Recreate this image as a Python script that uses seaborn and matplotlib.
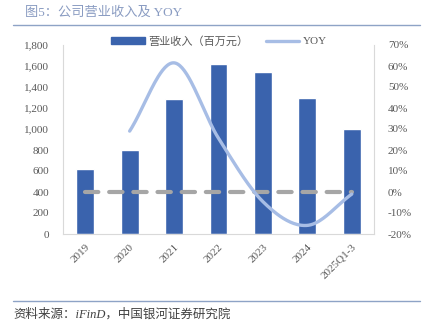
import numpy as np
import pandas as pd
import matplotlib
matplotlib.use("Agg")
import matplotlib.pyplot as plt
from matplotlib.patches import Patch
from matplotlib.lines import Line2D
import seaborn as sns

categories = ["2019", "2020", "2021", "2022", "2023", "2024", "2025Q1-3"]
revenue = [620, 800, 1290, 1620, 1545, 1300, 1000]
yoy = [np.nan, 29.0, 61.5, 25.6, -4.6, -15.9, -1.0]
zero_line = [0, 0, 0, 0, 0, 0, 0]
left_ticks = [0, 200, 400, 600, 800, 1000, 1200, 1400, 1600, 1800]
right_ticks = [-20, -10, 0, 10, 20, 30, 40, 50, 60, 70]

sns.set_style("white")
plt.rcParams["font.family"] = ["Liberation Serif", "Noto Sans CJK SC", "DejaVu Sans"]

BAR = "#3A63AD"
LINE = "#A7BDE5"
DASH = "#A6A6A6"
TXT = "#595959"
SPINE = "#D9D9D9"

fig = plt.figure(figsize=(4.23, 3.30), dpi=100)
ax = fig.add_axes([63 / 423, 1 - 234 / 330, (374 - 63) / 423, (234 - 45) / 330])

df = pd.DataFrame({"cat": categories, "rev": revenue})
sns.barplot(data=df, x="cat", y="rev", color=BAR, saturation=1, width=0.4, ax=ax)
ax.set_xlim(-0.5, len(categories) - 0.5)
ax.set_ylim(0, 1800)
ax.set_yticks(left_ticks)
ax.set_yticklabels([f"{v:,}" for v in left_ticks])
ax.set_xlabel("")
ax.set_ylabel("")
ax.tick_params(axis="both", length=0, labelsize=8, colors=TXT)
ax.tick_params(axis="y", pad=10)
plt.setp(ax.get_xticklabels(), rotation=45, ha="right", va="top", rotation_mode="anchor")
ax.tick_params(axis="x", pad=6)
for s in ax.spines.values():
    s.set_color(SPINE)
    s.set_linewidth(0.8)
ax.spines["top"].set_visible(False)

ax2 = ax.twinx()
ax2.set_ylim(-20, 70)
ax2.set_yticks(right_ticks)
ax2.set_yticklabels([f"{v}%" for v in right_ticks])
ax2.tick_params(axis="y", length=0, labelsize=8, colors=TXT, pad=10)
for s in ax2.spines.values():
    s.set_visible(False)

x = np.arange(len(categories))
# dashed zero line
ax2.plot(x, zero_line, color=DASH, lw=3, dashes=(3.2, 2.6), solid_capstyle="round",
         dash_capstyle="round", zorder=3)

# smoothed YOY line (Catmull-Rom through the data points)
xs = x[1:].astype(float)
ys = np.array(yoy[1:], dtype=float)
px = np.concatenate([[2 * xs[0] - xs[1]], xs, [2 * xs[-1] - xs[-2]]])
py = np.concatenate([[2 * ys[0] - ys[1]], ys, [2 * ys[-1] - ys[-2]]])
cx, cy = [], []
for i in range(1, len(px) - 2):
    t = np.linspace(0, 1, 40)
    p0, p1, p2, p3 = (np.array([px[j], py[j]]) for j in range(i - 1, i + 3))
    b1 = p1 + (p2 - p0) / 6
    b2 = p2 - (p3 - p1) / 6
    pts = ((1 - t) ** 3)[:, None] * p1 + (3 * (1 - t) ** 2 * t)[:, None] * b1 + \
          (3 * (1 - t) * t ** 2)[:, None] * b2 + (t ** 3)[:, None] * p2
    cx.extend(pts[:, 0])
    cy.extend(pts[:, 1])
ax2.plot(cx, cy, color=LINE, lw=2.4, solid_capstyle="round", zorder=4)

handles = [Patch(facecolor=BAR, edgecolor=BAR), Line2D([0], [0], color=LINE, lw=2.4)]
fig.legend(handles, ["营业收入（百万元）", "YOY"], loc="center", bbox_to_anchor=(0.518, 1 - 41 / 330),
           ncol=2, frameon=False, fontsize=8, labelcolor=TXT, handlelength=3.0, handleheight=0.5,
           columnspacing=1.6, handletextpad=0.3)

fig.text(25 / 423, 1 - 13 / 330, "图5：公司营业收入及 YOY", fontsize=9.5, color="#8A9CC2",
         va="center", ha="left")
fig.add_artist(Line2D([13 / 423, 420 / 423], [1 - 25 / 330, 1 - 25 / 330], color="#8EA3C6", lw=1))
fig.add_artist(Line2D([13 / 423, 420 / 423], [1 - 301 / 330, 1 - 301 / 330], color="#8EA3C6", lw=1))
fig.text(13 / 423, 1 - 314 / 330, "资料来源：iFinD，中国银河证券研究院", fontsize=9, color="#404040",
         va="center", ha="left", style="italic")

fig.savefig("out.png", dpi=100)
